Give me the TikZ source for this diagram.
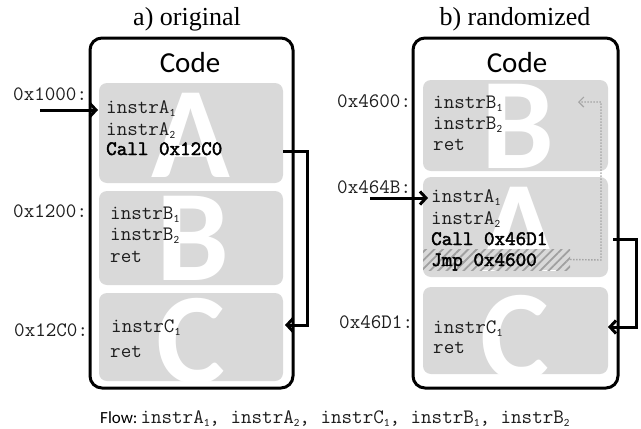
\documentclass[tikz,border=0pt]{standalone}
\usepackage{fontspec}
\setmainfont{Liberation Serif}
\newfontfamily\calibri{Carlito}
\newfontfamily\ttbold{Latin Modern Mono}[FakeBold=2.2]
\usetikzlibrary{arrows.meta,patterns.meta}
\definecolor{blockgray}{RGB}{217,217,217}
\definecolor{hatchgray}{RGB}{160,160,160}
\definecolor{dotgray}{RGB}{165,165,165}
\definecolor{codeblack}{RGB}{30,30,30}
\newcommand\subn[1]{\raisebox{-3pt}{\calibri\fontsize{11}{11}\selectfont #1}}
\tikzset{
  outerbox/.style={draw, line width=3pt, rounded corners=12pt, inner sep=0},
  block/.style={fill=blockgray, rounded corners=8pt, inner sep=0},
  code/.style={font=\ttfamily\fontsize{20.5}{20.5}\selectfont, text=codeblack, anchor=base west, inner sep=0},
  bcode/.style={font=\ttbold\fontsize{20.5}{20.5}\selectfont, anchor=base west, inner sep=0},
  big/.style={font=\calibri\bfseries\fontsize{130}{130}\selectfont, text=white, anchor=base, inner sep=0},
  ttl/.style={font=\fontsize{26}{26}\selectfont, anchor=base, inner sep=0},
  codettl/.style={font=\calibri\fontsize{29}{29}\selectfont, anchor=base, inner sep=0},
  flowarrow/.style={line width=3pt, -{Straight Barb[length=6pt,width=13pt]}},
  jmparrow/.style={dotgray, line width=1.4pt, dash pattern=on 1.4pt off 1.6pt, -{Straight Barb[length=5pt,width=10pt,line width=1.2pt]}},
  hatchbox/.style={fill=blockgray, inner sep=0,
     postaction={pattern={Lines[angle=45,distance=6pt,line width=1.8pt]}, pattern color=hatchgray}}
}
\begin{document}
\begin{tikzpicture}[x=1pt,y=-1pt]
\useasboundingbox (0,0) rectangle (641,429);

% titles
\node[ttl] (tl) at (187,25) {a) original};
\node[ttl] (tr) at (515,25) {b) randomized};

% outer boxes
\node[outerbox, minimum width=203pt, minimum height=350pt] (OL) at (191.5,213) {};
\node[outerbox, minimum width=205pt, minimum height=350pt] (OR) at (515.5,213) {};
\node[codettl] (cl) at (190,72) {Code};
\node[codettl] (cr) at (517,72) {Code};

% left blocks
\node[block, minimum width=184pt, minimum height=100pt] (LA) at (191,133) {};
\node[block, minimum width=184pt, minimum height=94pt] (LB) at (191,238) {};
\node[block, minimum width=184pt, minimum height=88pt] (LC) at (191,337) {};
% right blocks
\node[block, minimum width=185pt, minimum height=91pt] (RB) at (515.5,125.5) {};
\node[block, minimum width=185pt, minimum height=100pt] (RA) at (515.5,227) {};
\node[block, minimum width=185pt, minimum height=87pt] (RC) at (515.5,330.5) {};

% big letters
\begin{scope}
  \clip[rounded corners=8pt] (LA.south west) rectangle (LA.north east);
  \node[big] (bLA) at (191,177) {A};
\end{scope}
\begin{scope}
  \clip[rounded corners=8pt] (LB.south west) rectangle (LB.north east);
  \node[big] (bLB) at (193,280) {B};
\end{scope}
\begin{scope}
  \clip[rounded corners=8pt] (LC.south west) rectangle (LC.north east);
  \node[big] (bLC) at (191,383) {C};
\end{scope}
\begin{scope}
  \clip[rounded corners=8pt] (RB.south west) rectangle (RB.north east);
  \node[big] (bRB) at (518,168) {B};
\end{scope}
\begin{scope}
  \clip[rounded corners=8pt] (RA.south west) rectangle (RA.north east);
  \node[big] (bRA) at (519,271) {A};
\end{scope}
\begin{scope}
  \clip[rounded corners=8pt] (RC.south west) rectangle (RC.north east);
  \node[big] (bRC) at (515,380) {C};
\end{scope}

% hatched band
\node[hatchbox, minimum width=147pt, minimum height=21pt] (hatch) at (496.5,259.5) {};

% address labels
\node[code] (a1000) at (13,100) {0x1000:};
\node[code] (a1200) at (13,217) {0x1200:};
\node[code] (a12C0) at (14,336) {0x12C0:};
\node[code] (a4600) at (337,107) {0x4600:};
\node[code] (a464B) at (337,193) {0x464B:};
\node[code] (a46D1) at (339,328) {0x46D1:};

% left code
\node[code]  (lA1) at (106,113) {instrA\subn{1}};
\node[code]  (lA2) at (106,135) {instrA\subn{2}};
\node[bcode] (lA3) at (106,155) {Call 0x12C0};
\node[code]  (lB1) at (110,219) {instrB\subn{1}};
\node[code]  (lB2) at (110,240) {instrB\subn{2}};
\node[code]  (lB3) at (110,262) {ret};
\node[code]  (lC1) at (111,332) {instrC\subn{1}};
\node[code]  (lC2) at (110,357) {ret};

% right code
\node[code]  (rB1) at (433,108) {instrB\subn{1}};
\node[code]  (rB2) at (433,129) {instrB\subn{2}};
\node[code]  (rB3) at (433,150) {ret};
\node[code]  (rA1) at (431,202) {instrA\subn{1}};
\node[code]  (rA2) at (431,224) {instrA\subn{2}};
\node[bcode] (rA3) at (431,245) {Call 0x46D1};
\node[bcode] (rA4) at (431,266) {Jmp 0x4600};
\node[code]  (rC1) at (433,333) {instrC\subn{1}};
\node[code]  (rC2) at (433,353) {ret};

% arrows
\coordinate (inL) at (40,110);
\coordinate (inLtip) at (98,110);
\draw[flowarrow] (inL) -- (inLtip);
\coordinate (inR) at (370,198);
\coordinate (inRtip) at (428,198);
\draw[flowarrow] (inR) -- (inRtip);

\coordinate (callL) at (283,151);
\coordinate (retL) at (285,325);
\draw[flowarrow] (callL) -- (307,151) |- (retL);
\coordinate (callR) at (613,239);
\coordinate (retR) at (608,327);
\draw[flowarrow] (callR) -- (636,239) |- (retR);

\coordinate (jmpTip) at (578,102);
\draw[jmparrow] (hatch.east) -- (601,260) |- (jmpTip);

% flow line
\node[anchor=base west, inner sep=0] (flow) at (100,423)
  {{\calibri\fontsize{17}{17}\selectfont Flow:}\hspace{3pt}{\ttfamily\fontsize{20.5}{20.5}\selectfont\color{codeblack}instrA\subn{1}, instrA\subn{2}, instrC\subn{1}, instrB\subn{1}, instrB\subn{2}}};
\end{tikzpicture}
\end{document}
